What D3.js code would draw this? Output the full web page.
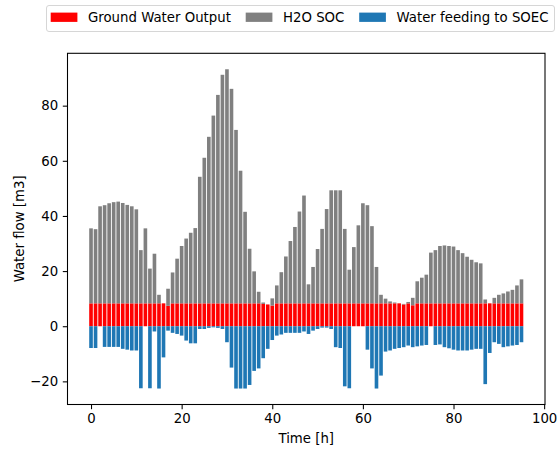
<!DOCTYPE html>
<html>
<head>
<meta charset="utf-8">
<script src="https://cdn.jsdelivr.net/npm/d3@7"></script>
<style>
  html, body { margin: 0; padding: 0; background: #fff; }
  svg { display: block; font-family: "DejaVu Sans", sans-serif; }
</style>
</head>
<body>
<svg id="chart" width="557" height="449"></svg>
<script>
// ---- data (hours 0..95) ----
const hours = d3.range(96);

const groundWater = [
  8.3, 8.3, 8.3, 8.3, 8.3, 8.3, 8.3, 8.3, 8.3, 8.3,
  8.3, 8.3, 8.3, 8.3, 8.3, 8.3, 8.3, 7.4, 8.3, 8.3,
  8.3, 8.3, 8.3, 8.3, 8.3, 8.3, 8.3, 8.3, 8.3, 8.3,
  8.3, 8.3, 8.3, 8.3, 8.3, 8.3, 8.3, 8.3, 8.1, 7.9,
  7.5, 8.3, 8.3, 8.3, 8.3, 8.3, 8.3, 8.3, 8.3, 8.3,
  8.3, 8.3, 8.3, 8.3, 8.3, 8.3, 8.3, 8.3, 8.3, 8.3,
  8.3, 8.3, 8.3, 8.3, 8.3, 8.3, 8.3, 8.3, 8.3, 7.9,
  8.3, 7.6, 8.3, 8.3, 8.3, 8.3, 8.3, 8.3, 8.3, 8.3,
  8.3, 8.3, 8.3, 8.3, 8.3, 8.3, 8.3, 8.3, 8.3, 8.3,
  8.3, 8.3, 8.3, 8.3, 8.3, 8.3
];

// H2O SOC (stacked on top of the ground water output)
const h2oSoc = [
  27.2, 26.9, 35.2, 35.6, 36.3, 36.7, 36.9, 36.4, 35.7, 35.2,
  34.1, 19.3, 27.2, 12.6, 18.0, 3.1, 0.0, 6.2, 11.2, 16.2,
  20.8, 23.5, 25.6, 27.3, 45.9, 52.8, 60.4, 68.1, 75.6, 82.9,
  84.9, 77.8, 62.9, 48.1, 33.2, 19.8, 11.6, 4.2, 0.5, 0.0,
  2.6, 6.5, 11.3, 17.0, 22.6, 27.7, 33.3, 39.1, 6.9, 13.2,
  19.7, 27.0, 34.2, 41.0, 41.0, 41.0, 27.0, 12.2, 20.4, 28.3,
  36.3, 35.6, 28.0, 13.2, 3.1, 1.7, 0.7, 0.3, 0.0, 0.2,
  0.5, 2.7, 8.0, 9.3, 10.4, 18.4, 19.3, 20.8, 21.0, 20.8,
  20.6, 19.3, 18.2, 16.9, 15.8, 14.9, 14.5, 1.4, 0.0, 2.0,
  3.1, 3.6, 4.3, 4.9, 6.5, 8.7
];

const waterToSoec = [
  -7.9, -7.9, 0.0, -7.5, -7.5, -7.5, -7.5, -8.2, -8.5, -8.8,
  -8.8, -22.5, 0.0, -22.5, -1.9, -22.6, -11.3, -1.6, -2.4, -2.8,
  -3.4, -5.2, -6.2, -6.2, -1.0, -1.0, -0.6, -0.4, -0.6, -1.0,
  -5.8, -15.0, -22.6, -22.6, -22.6, -21.3, -16.2, -15.3, -11.6, -8.2,
  -5.0, -3.4, -3.0, -2.4, -2.4, -2.4, -2.4, -1.9, -2.8, -1.6,
  -1.0, -0.5, -0.5, -1.0, -7.6, -7.9, -21.8, -22.5, 0.0, 0.0,
  0.0, -8.5, -15.3, -22.6, -17.9, -9.2, -8.8, -8.2, -7.9, -7.6,
  -7.0, -7.6, -7.3, -7.0, -6.8, 0.0, -6.8, -6.6, -7.6, -8.0,
  -8.5, -8.8, -8.8, -8.8, -8.5, -8.2, -8.2, -21.0, -9.7, -5.8,
  -6.4, -7.6, -7.3, -7.0, -6.8, -5.8
];

const xTicks = [0, 20, 40, 60, 80, 100];
const yTicks = [-20, 0, 20, 40, 60, 80];
const seriesNames = ["Ground Water Output", "H2O SOC", "Water feeding to SOEC"];
const seriesColors = ["#ff0000", "#808080", "#1f77b4"];

// ---- layout ----
const svg = d3.select("#chart");
const plot = { left: 67.5, right: 545, top: 53.3, bottom: 404.5 };
const barW = 0.8;

const xMin = d3.min(hours) - barW / 2, xMax = d3.max(hours) + barW / 2;
const xPad = (xMax - xMin) * 0.05;
const x = d3.scaleLinear().domain([xMin - xPad, xMax + xPad]).range([plot.left, plot.right]);

const tops = hours.map(i => groundWater[i] + h2oSoc[i]);
const yLo = Math.min(0, d3.min(waterToSoec)), yHi = d3.max(tops);
const yPad = (yHi - yLo) * 0.05;
const y = d3.scaleLinear().domain([yLo - yPad, yHi + yPad]).range([plot.bottom, plot.top]);

const bw = x(barW) - x(0);

// ground water (red) from 0
svg.append("g").selectAll("rect").data(hours).join("rect")
  .attr("x", i => x(i - barW / 2)).attr("width", bw)
  .attr("y", i => y(groundWater[i]))
  .attr("height", i => y(0) - y(groundWater[i]))
  .attr("fill", seriesColors[0]);

// H2O SOC (gray) stacked on red
svg.append("g").selectAll("rect").data(hours).join("rect")
  .attr("x", i => x(i - barW / 2)).attr("width", bw)
  .attr("y", i => y(groundWater[i] + h2oSoc[i]))
  .attr("height", i => y(groundWater[i]) - y(groundWater[i] + h2oSoc[i]))
  .attr("fill", seriesColors[1]);

// water feeding (blue) negative
svg.append("g").selectAll("rect").data(hours).join("rect")
  .attr("x", i => x(i - barW / 2)).attr("width", bw)
  .attr("y", y(0))
  .attr("height", i => y(waterToSoec[i]) - y(0))
  .attr("fill", seriesColors[2]);

// ---- axes ----
const fmt = d3.format("d");
const xAxis = svg.append("g").attr("transform", `translate(0,${plot.bottom})`)
  .call(d3.axisBottom(x).tickValues(xTicks).tickFormat(fmt).tickSize(4.7).tickPadding(4.7));
const yAxis = svg.append("g").attr("transform", `translate(${plot.left},0)`)
  .call(d3.axisLeft(y).tickValues(yTicks).tickFormat(fmt).tickSize(4.7).tickPadding(4.7));
[xAxis, yAxis].forEach(a => {
  a.select(".domain").remove();
  a.selectAll("line").attr("stroke", "#000").attr("stroke-width", 1.07);
  a.selectAll("text").attr("font-size", 13.3).attr("fill", "#000")
    .attr("font-family", "DejaVu Sans, sans-serif");
});

// spines
svg.append("rect")
  .attr("x", plot.left).attr("y", plot.top)
  .attr("width", plot.right - plot.left).attr("height", plot.bottom - plot.top)
  .attr("fill", "none").attr("stroke", "#000").attr("stroke-width", 1.07);

// axis labels
svg.append("text").attr("x", (plot.left + plot.right) / 2).attr("y", 443)
  .attr("text-anchor", "middle").attr("font-size", 13.3).text("Time [h]");
svg.append("text")
  .attr("transform", `translate(24,${(plot.top + plot.bottom) / 2}) rotate(-90)`)
  .attr("text-anchor", "middle").attr("font-size", 13.3).text("Water flow [m3]");

// ---- legend ----
const lg = svg.append("g");
lg.append("rect").attr("x", 46.5).attr("y", 5.5).attr("width", 508).attr("height", 26)
  .attr("rx", 2.5).attr("fill", "#fff").attr("fill-opacity", 0.8)
  .attr("stroke", "#d6d6d6").attr("stroke-width", 1);
const patchX = [50.7, 245.7, 359.2];
seriesNames.forEach((name, k) => {
  lg.append("rect").attr("x", patchX[k]).attr("y", 12.6).attr("width", 26.7).attr("height", 9.3)
    .attr("fill", seriesColors[k]);
  lg.append("text").attr("x", patchX[k] + 37.3).attr("y", 22.3)
    .attr("font-size", 13.3).attr("fill", "#000").text(name);
});
</script>
</body>
</html>
